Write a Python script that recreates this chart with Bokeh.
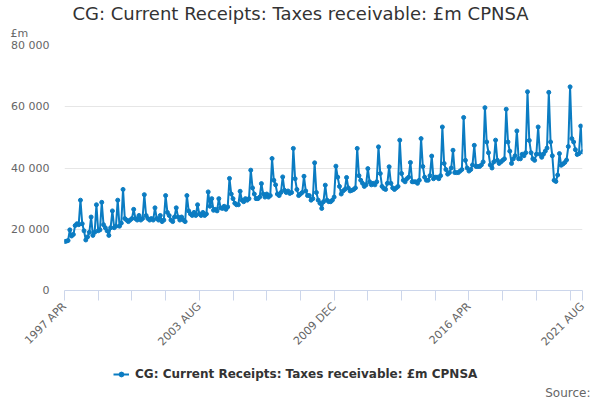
import math
from bokeh.plotting import figure
from bokeh.layouts import column
from bokeh.models import (FixedTicker, Legend, LegendItem, ColumnDataSource, Range1d,
                          Title)
from bokeh.embed import file_html
from bokeh.resources import INLINE

# ---------------- data ----------------
MONTH_NAMES = ["JAN", "FEB", "MAR", "APR", "MAY", "JUN",
               "JUL", "AUG", "SEP", "OCT", "NOV", "DEC"]
START_YEAR, START_MONTH = 1997, 4   # 1997 APR
END_YEAR, END_MONTH = 2021, 8       # 2021 AUG

categories = []
for yr in range(START_YEAR, END_YEAR + 1):
    for m in range(1, 13):
        if (yr, m) < (START_YEAR, START_MONTH) or (yr, m) > (END_YEAR, END_MONTH):
            continue
        categories.append(f"{yr} {MONTH_NAMES[m - 1]}")

v1997 = [16000, 16100, 16300, 19800, 17800, 18300, 21200, 21800, 21500]
v1998 = [29500, 21800, 19500, 16500, 17500, 19000, 24000, 18000, 19000, 28000, 19500, 19800]
v1999 = [28800, 21500, 20500, 19500, 18000, 20500, 26000, 20500, 21000, 29500, 21000, 22000]
v2000 = [33000, 23500, 23000, 22500, 23000, 23500, 26500, 23500, 23000, 24500, 23000, 23500]
v2001 = [31300, 24500, 23500, 23000, 23500, 23000, 27000, 23500, 23000, 24500, 22500, 23000]
v2002 = [31000, 25500, 24500, 23000, 22500, 24000, 27000, 24000, 23000, 24000, 23000, 22500]
v2003 = [31000, 26000, 25000, 24500, 25500, 24500, 28000, 25000, 24500, 25500, 24500, 25000]
v2004 = [32200, 27500, 30000, 26200, 26500, 26000, 30000, 27000, 26800, 27500, 26500, 27300]
v2005 = [36600, 31500, 30000, 28500, 28000, 28000, 32400, 29500, 29000, 30000, 29500, 30000]
v2006 = [39300, 33500, 31500, 30000, 30000, 30500, 34900, 31500, 30500, 31500, 30500, 31000]
v2007 = [43100, 36000, 34500, 31500, 31000, 32000, 37100, 32700, 32000, 32500, 31700, 32000]
v2008 = [46400, 36500, 33000, 31000, 31500, 32000, 37300, 32500, 31000, 31000, 29500, 30000]
v2009 = [41700, 32000, 29500, 28500, 26800, 29000, 34400, 29500, 29000, 29000, 29500, 30500]
v2010 = [40600, 37000, 34000, 31500, 32500, 33000, 36900, 33500, 32500, 32700, 33000, 33500]
v2011 = [46400, 37500, 36000, 35000, 34000, 34500, 39800, 35500, 34500, 35000, 34500, 35500]
v2012 = [46900, 38200, 34000, 33300, 33000, 35000, 40400, 35000, 33500, 33000, 33500, 34000]
v2013 = [49100, 38200, 36000, 35500, 36500, 37000, 41800, 35500, 35500, 35500, 35000, 36000]
v2014 = [49600, 40500, 37000, 36000, 36000, 37500, 43900, 36500, 37000, 37000, 36500, 37500]
v2015 = [53400, 41500, 39500, 38000, 38500, 40000, 45800, 38500, 38500, 38500, 39000, 39500]
v2016 = [56500, 42500, 40000, 39000, 39500, 41000, 47400, 40500, 40500, 40500, 41000, 42000]
v2017 = [59700, 48500, 45000, 41000, 40000, 42000, 49100, 42500, 41500, 42000, 42500, 43000]
v2018 = [59200, 48500, 45500, 41500, 43000, 44000, 52100, 43000, 43000, 44500, 44000, 45000]
v2019 = [64900, 49000, 45000, 43000, 42500, 44500, 53400, 44500, 43500, 44500, 45500, 46500]
v2020 = [64700, 48500, 44000, 36000, 35600, 37700, 44700, 40900, 41300, 41800, 42600, 47000]
v2021 = [66500, 49600, 48500, 46000, 44400, 44700, 53700, 45300]

receipts = (v1997 + v1998 + v1999 + v2000 + v2001 + v2002 + v2003 + v2004 + v2005
            + v2006 + v2007 + v2008 + v2009 + v2010 + v2011 + v2012 + v2013 + v2014
            + v2015 + v2016 + v2017 + v2018 + v2019 + v2020 + v2021)

series_name = "CG: Current Receipts: Taxes receivable: £m CPNSA"
unit_label = "£m"
source_label = "Source:"
y_ticks = [0, 20000, 40000, 60000, 80000]
y_tick_labels = ["0", "20 000", "40 000", "60 000", "80 000"]
x_tick_step = 19
x_label_step = 76

# ---------------- chart ----------------
FONT = "DejaVu Sans"
BLUE = "#0b7cc2"

n = len(categories)
src = ColumnDataSource(dict(x=list(range(n)), y=receipts, month=categories))

p = figure(width=600, height=356, output_backend="svg", toolbar_location=None,
           title=None,
           x_range=Range1d(0, n - 1), y_range=Range1d(0, 80000),
           min_border_left=64, min_border_right=18, min_border_top=45,
           min_border_bottom=64)
p.outline_line_color = None
p.background_fill_color = "white"
p.border_fill_color = "white"

line_r = p.line("x", "y", source=src, line_width=2, line_color=BLUE)
dot_r = p.scatter("x", "y", source=src, size=4, fill_color=BLUE, line_color=BLUE)

# x axis: category-like ticks
tick_pos = list(range(0, n, x_tick_step))
if tick_pos[-1] != n - 1:
    tick_pos.append(n - 1)
overrides = {}
for t in tick_pos:
    if t % x_label_step == 0 or t == n - 1:
        overrides[t] = categories[t]
    else:
        overrides[t] = ""
xa = p.xaxis[0]
xa.ticker = FixedTicker(ticks=tick_pos)
xa.major_label_overrides = overrides
xa.major_label_orientation = math.pi / 4
xa.axis_line_color = "#ccd6eb"
xa.major_tick_line_color = "#ccd6eb"
xa.major_tick_out = 10
xa.major_tick_in = 0
xa.minor_tick_line_color = None
xa.major_label_text_color = "#666666"
xa.major_label_text_font = FONT
xa.major_label_text_font_size = "11px"
xa.major_label_standoff = 4

ya = p.yaxis[0]
ya.ticker = FixedTicker(ticks=y_ticks)
ya.major_label_overrides = {t: l for t, l in zip(y_ticks, y_tick_labels)}
ya.axis_line_color = None
ya.major_tick_line_color = None
ya.minor_tick_line_color = None
ya.major_tick_out = 0
ya.major_tick_in = 0
ya.major_label_standoff = 15
ya.major_label_text_color = "#666666"
ya.major_label_text_font = FONT
ya.major_label_text_font_size = "11px"

p.xgrid.visible = False
p.ygrid.grid_line_color = "#e6e6e6"
p.ygrid.grid_line_width = 1

# titles above (closest to the frame first)
p.add_layout(Title(text=unit_label, align="left", offset=-54, standoff=12,
                   vertical_align="bottom", text_font=FONT, text_font_size="11px",
                   text_font_style="normal", text_color="#666666"), "above")
p.add_layout(Title(text=series_name, align="left", offset=8, standoff=-11,
                   vertical_align="bottom", text_font=FONT, text_font_size="18px",
                   text_font_style="normal", text_color="#333333"), "above")

# ---------------- footer: legend + source ----------------
f = figure(width=600, height=44, output_backend="svg", toolbar_location=None,
           title=None, x_axis_type=None, y_axis_type=None,
           x_range=Range1d(0, n - 1), y_range=Range1d(0, 1),
           min_border=0)
f.outline_line_color = None
f.grid.visible = False
f.background_fill_color = "white"
f.border_fill_color = "white"

# same series (falls outside this strip's range; only its legend entry shows)
leg_line = f.line("x", "y", source=src, line_width=2, line_color=BLUE)
leg_dot = f.scatter("x", "y", source=src, size=4, fill_color=BLUE, line_color=BLUE)

legend = Legend(items=[LegendItem(label=series_name, renderers=[leg_line, leg_dot])],
                location=(49, 1), orientation="horizontal",
                padding=0, margin=0, border_line_color=None,
                background_fill_alpha=0, glyph_width=16, glyph_height=12,
                label_standoff=6, label_text_font=FONT, label_text_font_size="12px",
                label_text_font_style="bold", label_text_color="#333333",
                label_height=12)
f.add_layout(legend)

f.add_layout(Title(text=source_label, align="right", offset=-8, standoff=2,
                   vertical_align="bottom", text_font=FONT, text_font_size="12px",
                   text_font_style="normal", text_color="#666666"), "below")

page = column(p, f, spacing=0)
open("out.html", "w").write(file_html(page, INLINE))
